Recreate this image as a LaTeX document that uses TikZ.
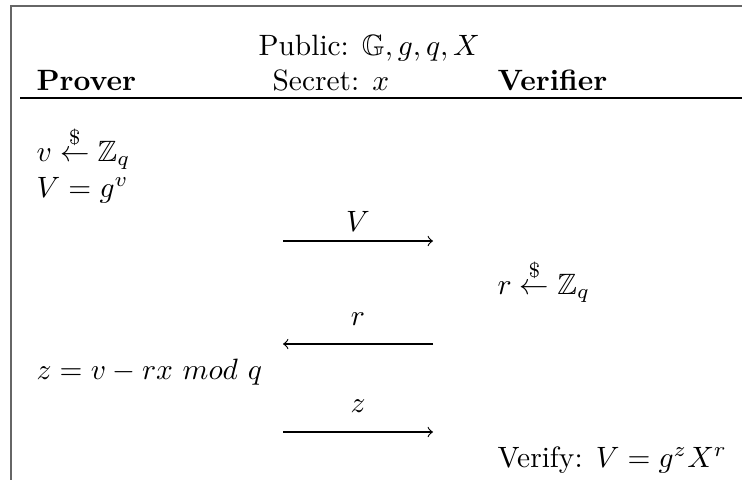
\documentclass[tikz,border=0pt]{standalone}
\usepackage{amsmath,amssymb}
\begin{document}
\begin{tikzpicture}[x=0.34pt,y=-0.34pt,
  lbl/.style={inner sep=0pt, anchor=base west},
  msglbl/.style={inner sep=0pt, anchor=base},
  arr/.style={->, line width=0.4pt},
  frameline/.style={draw=black!60, line width=0.6pt}]
\useasboundingbox (0,0) rectangle (742,480);
\coordinate (ftl) at (11,6);
\coordinate (ftr) at (742,6);
\coordinate (fbl) at (11,480);
\draw[frameline] (ftr) -- (ftl) -- (fbl);
\coordinate (rl) at (20,98);
\coordinate (rr) at (742,98);
\draw[line width=0.5pt] (rl) -- (rr);
\node[lbl] (pub) at (258,55) {Public: $\mathbb{G}, g, q, X$};
\node[lbl] (sec) at (272,90) {Secret: $x$};
\node[lbl] (prover) at (36,90) {\textbf{Prover}};
\node[lbl] (verifier) at (497,90) {\textbf{Verifier}};
\node[lbl] (p1) at (36,161) {$v \overset{\$}{\leftarrow} \mathbb{Z}_q$};
\node[lbl] (p2) at (36,197) {$V = g^v$};
\coordinate (a1s) at (283,241);
\coordinate (a1e) at (433,241);
\draw[arr] (a1s) -- (a1e);
\node[msglbl] (m1) at (358,231) {$V$};
\node[lbl] (v1) at (497,294) {$r \overset{\$}{\leftarrow} \mathbb{Z}_q$};
\coordinate (a2s) at (433,344);
\coordinate (a2e) at (283,344);
\draw[arr] (a2s) -- (a2e);
\node[msglbl] (m2) at (358,325) {$r$};
\node[lbl] (p3) at (36,379) {$z = v - rx \ mod \ q$};
\coordinate (a3s) at (283,432);
\coordinate (a3e) at (433,432);
\draw[arr] (a3s) -- (a3e);
\node[msglbl] (m3) at (358,412) {$z$};
\node[lbl] (v2) at (497,467) {Verify: $V = g^z X^r$};
\end{tikzpicture}
\end{document}
